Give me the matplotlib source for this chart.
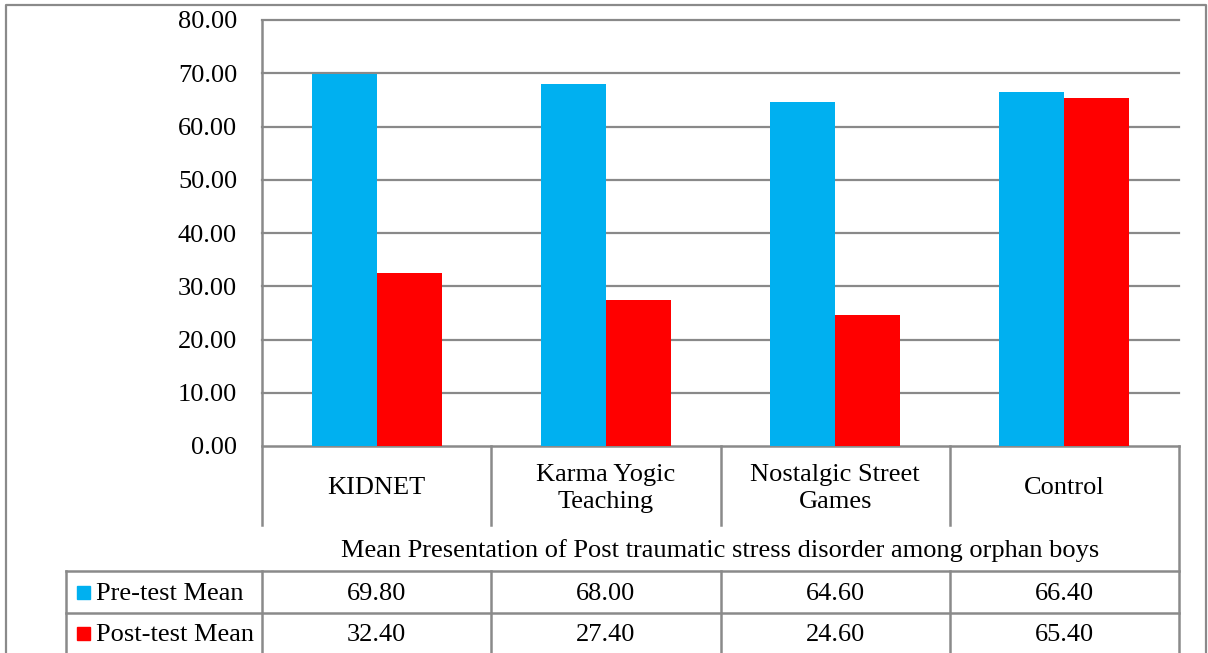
import numpy as np
import matplotlib
matplotlib.use('Agg')
import matplotlib.pyplot as plt

categories = ["KIDNET", "Karma Yogic\nTeaching", "Nostalgic Street\nGames", "Control"]
series_names = ["Pre-test Mean", "Post-test Mean"]
pre_test = [69.80, 68.00, 64.60, 66.40]
post_test = [32.40, 27.40, 24.60, 65.40]
table_title = "Mean Presentation of Post traumatic stress disorder among orphan boys"
y_ticks = [0, 10, 20, 30, 40, 50, 60, 70, 80]

colors = ["#00B0F0", "#FF0000"]
grid_col = "#898989"
W, H = 1208, 653

plt.rcParams['font.family'] = ['Liberation Serif', 'DejaVu Serif']
fs = 19

fig = plt.figure(figsize=(W / 100, H / 100), dpi=100)

# plot area in pixel terms
left, right, top, bottom = 262, 1179, 20, 446
ax = fig.add_axes([left / W, 1 - bottom / H, (right - left) / W, (bottom - top) / H])
ax.patch.set_alpha(0)
n = len(categories)
x = np.arange(n)
col_w = (right - left) / n
bw = 65 / col_w
ax.bar(x - bw / 2, pre_test, bw, color=colors[0], zorder=3)
ax.bar(x + bw / 2, post_test, bw, color=colors[1], zorder=3)
ax.set_xlim(-0.5, n - 0.5)
ax.set_ylim(0, 80)
ax.set_yticks(y_ticks)
ax.set_yticklabels([f"{v:.2f}" for v in y_ticks], fontsize=fs)
ax.tick_params(axis='y', length=0, pad=18)
ax.set_xticks([])
for s in ax.spines.values():
    s.set_visible(False)
for v in y_ticks[1:]:
    ax.axhline(v, color=grid_col, lw=1.6, zorder=1, clip_on=False)

# overlay in pixel coordinates for the data table and frame
ov = fig.add_axes([0, 0, 1, 1], zorder=-1)
ov.set_xlim(0, W)
ov.set_ylim(H, 0)
ov.axis('off')
ov.patch.set_alpha(0)

lc = "#8a8a8a"
lw = 1.8
# outer frame
ov.plot([6, 6, 1206, 1206], [H + 5, 5, 5, H + 5], color=lc, lw=1.6)

row_cat = (446, 525)
row_title = (525, 571)
row_pre = (571, 613)
row_post = (613, 660)
edges = [left + i * col_w for i in range(n + 1)]

# left spine continues into the category row
ov.plot([left, left], [top, row_cat[1]], color=lc, lw=lw)
ov.plot([left, right], [bottom, bottom], color=lc, lw=lw)
for e in edges[1:-1]:
    ov.plot([e, e], [row_cat[0], row_cat[1]], color=lc, lw=lw)
ov.plot([right, right], [row_cat[0], row_post[1]], color=lc, lw=lw)
ov.plot([left, left], [row_title[1], row_post[1]], color=lc, lw=lw)
for e in edges[1:-1]:
    ov.plot([e, e], [row_pre[0], row_post[1]], color=lc, lw=lw)
ov.plot([66, right], [row_pre[0], row_pre[0]], color=lc, lw=lw)
ov.plot([66, right], [row_post[0], row_post[0]], color=lc, lw=lw)
ov.plot([66, 66], [row_pre[0], row_post[1]], color=lc, lw=lw)

for i, c in enumerate(categories):
    ov.text(left + (i + 0.5) * col_w, sum(row_cat) / 2 + 3, c, ha='center', va='center',
            fontsize=fs, linespacing=1.3)
ov.text((left + right) / 2, sum(row_title) / 2 + 3, table_title, ha='center', va='center', fontsize=fs)

rows = [row_pre, (613, 653)]
for r, name, vals, col in zip(rows, series_names, [pre_test, post_test], colors):
    yc = sum(r) / 2 + 2
    ov.add_patch(plt.Rectangle((77, yc - 8), 13, 13, color=col))
    ov.text(96, yc, name, ha='left', va='center', fontsize=fs)
    for i, v in enumerate(vals):
        ov.text(left + (i + 0.5) * col_w, yc, f"{v:.2f}", ha='center', va='center', fontsize=fs)

fig.savefig("out.png", dpi=100)
